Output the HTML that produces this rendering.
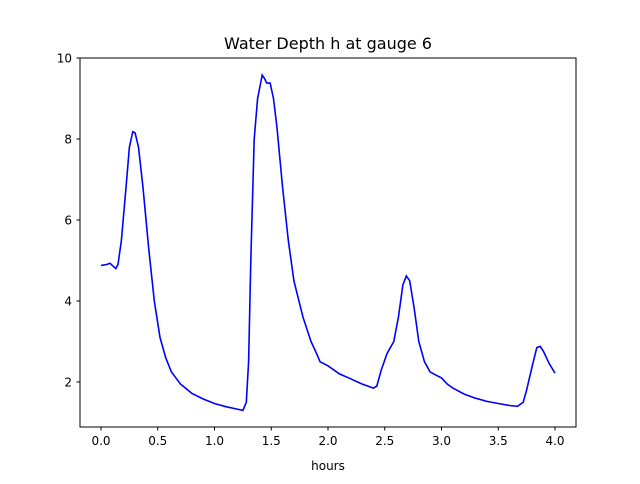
<!DOCTYPE html>
<html><head><meta charset="utf-8"><style>
body{margin:0;background:#fff;font-family:"DejaVu Sans","Liberation Sans",sans-serif;}
svg text{font-family:"DejaVu Sans","Liberation Sans",sans-serif;fill:#000;}
</style></head><body>
<svg id="chart" width="640" height="480">
<rect x="0" y="0" width="640" height="480" fill="#fff"/>
<text x="328" y="49" font-size="16" text-anchor="middle">Water Depth h at gauge 6</text>
<g id="xt"></g>
<g id="yt"></g>
<path id="line" fill="none" stroke="#0000ff" stroke-width="1.6"/>
<rect x="80" y="58" width="496" height="369" fill="none" stroke="#000" stroke-width="1"/>
<text x="328" y="470" font-size="12" text-anchor="middle">hours</text>
</svg>
<script>
const times=[0,0.05,0.08,0.1,0.13,0.15,0.18,0.22,0.25,0.28,0.3,0.33,0.37,0.42,0.47,0.52,0.57,0.62,0.7,0.8,0.9,1.0,1.1,1.2,1.25,1.28,1.3,1.32,1.35,1.38,1.42,1.44,1.46,1.49,1.52,1.55,1.6,1.65,1.7,1.78,1.85,1.9,1.93,2.0,2.1,2.2,2.3,2.4,2.43,2.47,2.52,2.58,2.62,2.66,2.69,2.72,2.76,2.8,2.85,2.9,2.95,3.0,3.05,3.1,3.2,3.3,3.4,3.5,3.6,3.67,3.72,3.75,3.8,3.84,3.87,3.9,3.95,4.0];
const depths=[4.88,4.9,4.93,4.88,4.8,4.9,5.5,6.8,7.8,8.18,8.15,7.8,6.8,5.3,4.0,3.1,2.6,2.25,1.95,1.72,1.58,1.47,1.39,1.33,1.3,1.5,2.5,5.0,8.0,9.0,9.58,9.5,9.38,9.38,9.0,8.3,6.8,5.5,4.5,3.6,3.0,2.7,2.5,2.4,2.2,2.08,1.95,1.85,1.9,2.3,2.7,3.0,3.6,4.4,4.62,4.5,3.8,3.0,2.5,2.25,2.17,2.1,1.95,1.85,1.7,1.6,1.52,1.47,1.42,1.4,1.5,1.8,2.4,2.85,2.88,2.75,2.45,2.22];
const xTicks=[0,0.5,1.0,1.5,2.0,2.5,3.0,3.5,4.0];
const xLabels=["0.0","0.5","1.0","1.5","2.0","2.5","3.0","3.5","4.0"];
const yTicks=[2,4,6,8,10];
const yLabels=["2","4","6","8","10"];
const X=t=>101+t*113.5;
const Y=v=>382-(v-2)*40.5;
const NS="http://www.w3.org/2000/svg";
const xt=document.getElementById('xt'),yt=document.getElementById('yt');
xTicks.forEach((t,i)=>{
  const l=document.createElementNS(NS,'line');
  l.setAttribute('x1',X(t));l.setAttribute('x2',X(t));l.setAttribute('y1',427);l.setAttribute('y2',430.5);l.setAttribute('stroke','#000');
  
  
  xt.appendChild(l);
  const tx=document.createElementNS(NS,'text');
  tx.setAttribute('x',X(t));tx.setAttribute('y',445);tx.setAttribute('font-size','12');tx.setAttribute('text-anchor','middle');
  tx.textContent=xLabels[i];
  
  
  xt.appendChild(tx);
});
yTicks.forEach((v,i)=>{
  const l=document.createElementNS(NS,'line');
  l.setAttribute('x1',76.5);l.setAttribute('x2',80);l.setAttribute('y1',Y(v));l.setAttribute('y2',Y(v));l.setAttribute('stroke','#000');
  
  
  yt.appendChild(l);
  const tx=document.createElementNS(NS,'text');
  tx.setAttribute('x',72);tx.setAttribute('y',Y(v)+4.5);tx.setAttribute('font-size','12');tx.setAttribute('text-anchor','end');
  tx.textContent=yLabels[i];
  
  
  yt.appendChild(tx);
});
document.getElementById('line').setAttribute('d',times.map((t,i)=>(i?'L':'M')+X(t).toFixed(1)+','+Y(depths[i]).toFixed(1)).join(''));
</script>
</body></html>
